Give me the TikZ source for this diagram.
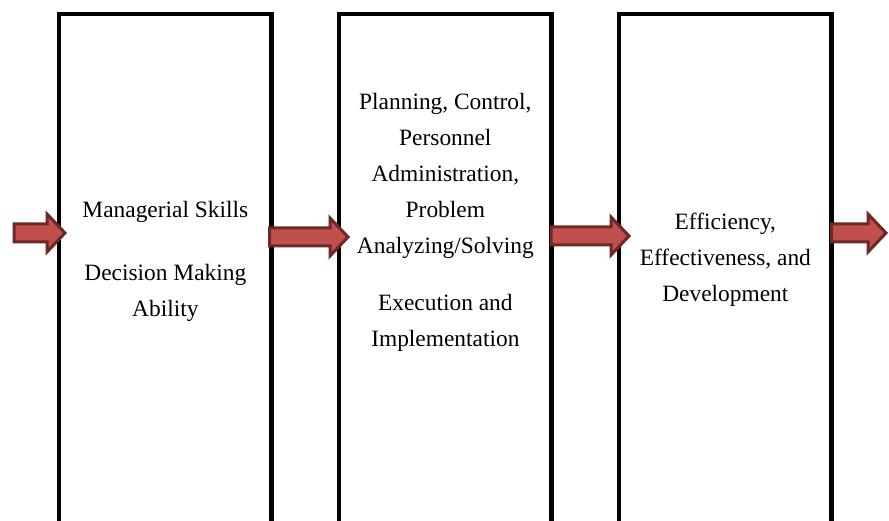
\documentclass[tikz,border=0pt]{standalone}
\usepackage{fontspec}
\setmainfont{Liberation Serif}
\usetikzlibrary{calc,positioning}
\definecolor{arrowred}{HTML}{C0504D}
\definecolor{arrowedge}{HTML}{6E2826}
\tikzset{
  stagebox/.style={draw=black, line width=4.5pt, minimum width=212.7pt,
    minimum height=560pt, inner sep=0pt, outer sep=0pt},
  stagetext/.style={align=center, anchor=north, inner sep=0pt,
    font=\fontsize{23.4}{36}\selectfont},
  blockarrow/.style={fill=arrowred, draw=arrowedge, line width=3pt, line join=miter},
}
% block arrow: shaft starts at #1, tip at #2 (same height as #1)
\newcommand{\blockarrow}[2]{%
  \draw[blockarrow] let \p1=(#1), \p2=(#2) in
    (\x1,\y1+9pt) -- (\x2-18pt,\y1+9pt) -- (\x2-18pt,\y1+19pt) -- (\x2,\y1)
    -- (\x2-18pt,\y1-19pt) -- (\x2-18pt,\y1-9pt) -- (\x1,\y1-9pt) -- cycle;}

\begin{document}
\begin{tikzpicture}[x=1pt, y=-1pt]
  \useasboundingbox (0,0) rectangle (889,521);

  % ── Stages ──
  \node[stagebox, anchor=north] (box1) at (165.35,14) {};
  \node[stagebox, right=67.3pt of box1] (box2) {};
  \node[stagebox, right=67.3pt of box2] (box3) {};

  % ── Arrows ──
  \coordinate (in) at (14,233);
  \coordinate (out) at (886,233);
  \blockarrow{in}{$(box1.west |- in)+(6,0)$}
  \blockarrow{$(box1.east |- 0,237)+(-2,0)$}{$(box2.west |- 0,237)+(9,0)$}
  \blockarrow{$(box2.east |- 0,236)+(-0.5,0)$}{$(box3.west |- 0,236)+(10,0)$}
  \blockarrow{$(box3.east |- out)$}{out}

  % ── Texts ──
  \node[stagetext] (skills) at (box1.north |- 0,201)
    {Managerial Skills\\[27pt]Decision Making\\Ability};
  \node[stagetext] (tasks) at (box2.north |- 0,93)
    {Planning, Control,\\Personnel\\Administration,\\Problem\\Analyzing/Solving\\[21pt]Execution and\\Implementation};
  \node[stagetext] (results) at (box3.north |- 0,213)
    {Efficiency,\\Effectiveness, and\\Development};
\end{tikzpicture}
\end{document}
